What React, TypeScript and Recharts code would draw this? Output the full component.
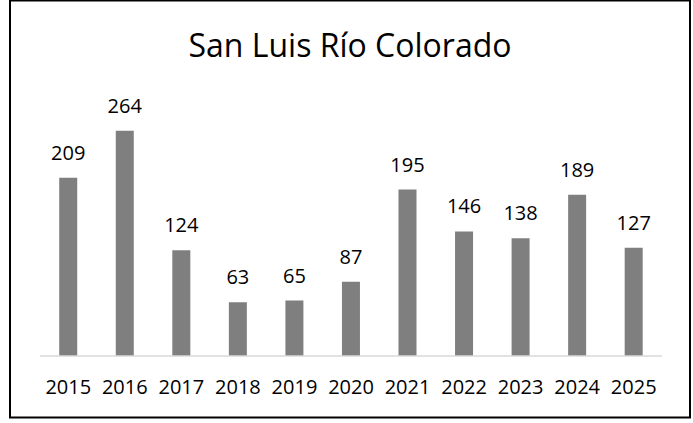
import React from "react";
import { BarChart, Bar, XAxis, YAxis, LabelList } from "recharts";

const years = ["2015", "2016", "2017", "2018", "2019", "2020", "2021", "2022", "2023", "2024", "2025"];
const counts = [209, 264, 124, 63, 65, 87, 195, 146, 138, 189, 127];
const title = "San Luis Río Colorado";

const data = years.map((y, i) => ({ year: y, value: counts[i] }));

const FONT = "'Open Sans', 'DejaVu Sans', sans-serif";

export default function App() {
  return (
    <div style={{ position: "absolute", left: 0, top: 0, width: 693, height: 423, background: "#fff" }}>
      <BarChart
        width={693}
        height={423}
        data={data}
        margin={{ top: 100, right: 31, bottom: 37, left: 40 }}
        barCategoryGap="34%"
      >
        <XAxis
          dataKey="year"
          height={30}
          tickLine={false}
          tickSize={0}
          tickMargin={24}
          axisLine={{ stroke: "#d9d9d9", strokeWidth: 1.5 }}
          tick={{ fill: "#000", fontSize: 20, fontFamily: FONT }}
          interval={0}
        />
        <YAxis hide domain={[0, 300]} width={0} />
        <Bar dataKey="value" fill="#7f7f7f" isAnimationActive={false}>
          <LabelList
            dataKey="value"
            position="top"
            offset={18}
            style={{ fill: "#000", fontSize: 20, fontFamily: FONT }}
          />
        </Bar>
      </BarChart>
      <svg
        width={693}
        height={423}
        style={{ position: "absolute", left: 0, top: 0, pointerEvents: "none" }}
      >
        <rect x={10} y={0.5} width={680} height={417} fill="none" stroke="#000" strokeWidth={2} />
        <text x={350} y={57} textAnchor="middle" fontSize={32} fontFamily={FONT} fill="#000">
          {title}
        </text>
      </svg>
    </div>
  );
}
